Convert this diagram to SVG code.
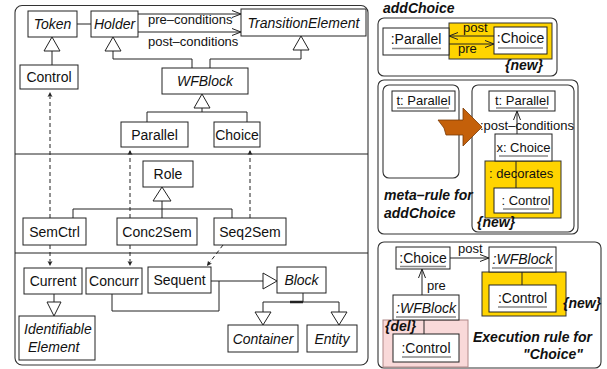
<svg xmlns="http://www.w3.org/2000/svg" width="607" height="369" viewBox="0 0 607 369">
<style>
.pn{fill:none;stroke:#333;stroke-width:1.1}
.bx{fill:#fff;stroke:#222;stroke-width:1}
.ln{fill:none;stroke:#222;stroke-width:1}
.dl{fill:none;stroke:#222;stroke-width:1;stroke-dasharray:4,3}
.tri{fill:#fff;stroke:#222;stroke-width:1}
.t{font-family:"Liberation Sans",Arial,Helvetica,sans-serif;font-size:14px;fill:#111}
.m{text-anchor:middle}
.i{font-style:italic}
.b{font-weight:bold}
.s{font-size:13px}
.u{stroke:#888;stroke-width:1.4}
.yel{fill:#FFD400;stroke:#333;stroke-width:1}
.pink{fill:#F9D9D9;stroke:#B08888;stroke-width:1}
</style>
<defs>
<marker id="open" markerWidth="10" markerHeight="8" refX="9" refY="4" orient="auto" markerUnits="userSpaceOnUse">
<path d="M0,0.5 L9,4 L0,7.5" fill="none" stroke="#222" stroke-width="1"/>
</marker>
<marker id="small" markerWidth="6" markerHeight="6" refX="5" refY="3" orient="auto" markerUnits="userSpaceOnUse">
<path d="M0,0.5 L5,3 L0,5.5 L1.2,3 Z" fill="#222"/>
</marker>
</defs>

<!-- panels -->
<rect class="pn" x="15" y="5.5" width="353" height="359.5" rx="7"/>
<line class="ln" x1="15" y1="154" x2="368" y2="154"/>
<line class="ln" x1="15" y1="253" x2="368" y2="253"/>

<g id="connectors">
<line class="ln" x1="77" y1="24" x2="91" y2="24"/>
<line class="ln" x1="138" y1="14" x2="241" y2="14" marker-end="url(#open)"/>
<line class="ln" x1="138" y1="32" x2="241" y2="32" marker-end="url(#open)"/>
<text class="t s" x="148" y="24">pre–conditions</text>
<text class="t s" x="148" y="46">post–conditions</text>
<!-- Token inheritance -->
<line class="ln" x1="52" y1="51" x2="52" y2="65"/>
<polygon class="tri" points="52,37 44,51 60,51"/>
<!-- Holder / TransitionElement inheritance -->
<path class="ln" d="M113,51 V59 H192 V68"/>
<polygon class="tri" points="113,37 105,51 121,51"/>
<path class="ln" d="M301,50 V59 H210 V68"/>
<polygon class="tri" points="301,36 293,50 309,50"/>
<!-- WFBlock children -->
<path class="ln" d="M202,108 V112 M147,122 V112 H247 V122"/>
<polygon class="tri" points="202,94 194,108 210,108"/>
<!-- Role children -->
<path class="ln" d="M162,201 V218 M73,218 V209 H232 V218"/>
<polygon class="tri" points="162,187 153,201 171,201"/>
<!-- dashed -->
<line class="dl" x1="50" y1="218" x2="50" y2="92" marker-end="url(#small)"/>
<line class="dl" x1="130" y1="218" x2="130" y2="150" marker-end="url(#small)"/>
<line class="dl" x1="250" y1="218" x2="250" y2="150" marker-end="url(#small)"/>
<line class="dl" x1="50" y1="245" x2="50" y2="266" marker-end="url(#small)"/>
<line class="dl" x1="130" y1="245" x2="130" y2="266" marker-end="url(#small)"/>
<line class="dl" x1="223" y1="245" x2="207" y2="266" marker-end="url(#small)"/>
<!-- Sequent/Concurr -> Block -->
<line class="ln" x1="211" y1="281" x2="263" y2="281"/>
<path class="ln" d="M112,293 V311 H219 V281"/>
<polygon class="tri" points="277,281 263,273 263,289"/>
<!-- Current -> IdentifiableElement -->
<line class="ln" x1="54" y1="294" x2="54" y2="302"/>
<polygon class="tri" points="54,316 47,302 61,302"/>
<!-- Block -> Container / Entity -->
<path class="ln" d="M303,293 V302 M263,312 V302 H339 V312"/>
<line x1="290" y1="302" x2="303" y2="302" stroke="#222" stroke-width="2.5"/>
<polygon class="tri" points="263,325 255,312 271,312"/>
<polygon class="tri" points="339,325 331,312 347,312"/>
</g>

<g id="Token"><rect class="bx" x="28" y="11" width="49" height="26"/><text class="t i m" x="52.5" y="29">Token</text></g>
<g id="Holder"><rect class="bx" x="91" y="11" width="47" height="26"/><text class="t i m" x="114.5" y="29">Holder</text></g>
<g id="TransitionElement"><rect class="bx" x="241" y="9" width="125" height="27"/><text class="t i m" x="303.5" y="27.5">TransitionElement</text></g>
<g id="Control"><rect class="bx" x="20" y="65" width="58" height="24"/><text class="t m" x="49" y="82">Control</text></g>
<g id="WFBlock"><rect class="bx" x="162" y="68" width="86" height="26"/><text class="t i m" x="205" y="86">WFBlock</text></g>
<g id="Parallel"><rect class="bx" x="121" y="122" width="67" height="25"/><text class="t m" x="154.5" y="139.5">Parallel</text></g>
<g id="Choice"><rect class="bx" x="214" y="122" width="46" height="25"/><text class="t m" x="237" y="139.5">Choice</text></g>
<g id="Role"><rect class="bx" x="143" y="161" width="50" height="26"/><text class="t m" x="168" y="179">Role</text></g>
<g id="SemCtrl"><rect class="bx" x="23" y="218" width="63" height="27"/><text class="t m" x="54.5" y="236.5">SemCtrl</text></g>
<g id="Conc2Sem"><rect class="bx" x="117" y="218" width="80" height="27"/><text class="t m" x="157" y="236.5">Conc2Sem</text></g>
<g id="Seq2Sem"><rect class="bx" x="214" y="218" width="72" height="27"/><text class="t m" x="250" y="236.5">Seq2Sem</text></g>
<g id="Current"><rect class="bx" x="24" y="268" width="58" height="26"/><text class="t m" x="53" y="286">Current</text></g>
<g id="Concurr"><rect class="bx" x="86" y="268" width="56" height="26"/><text class="t m" x="114" y="286">Concurr</text></g>
<g id="Sequent"><rect class="bx" x="148" y="267" width="63" height="26"/><text class="t m" x="179.5" y="285">Sequent</text></g>
<g id="Block"><rect class="bx" x="277" y="267" width="49" height="26"/><text class="t i m" x="301.5" y="285">Block</text></g>
<g id="IdentifiableElement"><rect class="bx" x="19" y="316" width="76" height="44"/><text class="t i" x="24" y="334">Identifiable</text><text class="t i" x="28" y="352">Element</text></g>
<g id="Container"><rect class="bx" x="228" y="325" width="70" height="27"/><text class="t i m" x="263" y="343.5">Container</text></g>
<g id="Entity"><rect class="bx" x="307" y="325" width="50" height="27"/><text class="t i m" x="332" y="343.5">Entity</text></g>

<!-- addChoice rule -->
<g id="addChoice">
<text class="t b i" x="383" y="13">addChoice</text>
<rect class="pn" x="378" y="18" width="179" height="58" rx="6"/>
<rect class="yel" x="449" y="23" width="103" height="36"/>
<rect class="bx" x="383" y="28" width="66" height="27"/>
<text class="t m" x="416" y="44">:Parallel</text>
<line class="u" x1="392" y1="48.5" x2="441" y2="48.5"/>
<rect class="bx" x="494" y="27" width="53" height="27"/>
<text class="t m" x="520.5" y="43">:Choice</text>
<line class="u" x1="498" y1="48" x2="543" y2="48"/>
<line class="ln" x1="494" y1="36" x2="449" y2="36" marker-end="url(#open)"/>
<line class="ln" x1="449" y1="44" x2="494" y2="44" marker-end="url(#open)"/>
<text class="t s" x="463" y="32">post</text>
<text class="t s" x="458" y="53">pre</text>
<text class="t b i" x="505" y="70">{new}</text>
</g>

<!-- meta-rule -->
<g id="metaRule">
<rect class="pn" x="378" y="80" width="200" height="154" rx="6"/>
<rect class="pn" x="383" y="85" width="76" height="93" rx="6"/>
<rect class="bx" x="392" y="91" width="63" height="20"/>
<text class="t m s" x="423.5" y="105">t: Parallel</text>
<line class="u" x1="397" y1="108" x2="449" y2="108"/>
<rect class="pn" x="472" y="85" width="102" height="147" rx="6"/>
<rect class="bx" x="489" y="91" width="66" height="20"/>
<text class="t m s" x="522" y="105">t: Parallel</text>
<line class="u" x1="496" y1="108" x2="548" y2="108"/>
<line class="ln" x1="517" y1="134" x2="517" y2="111" marker-end="url(#open)"/>
<text class="t s" x="480" y="130">:post–conditions</text>
<rect class="yel" x="485" y="161" width="76" height="57"/>
<line class="ln" x1="516" y1="161" x2="516" y2="188"/>
<rect class="bx" x="495" y="134" width="57" height="27"/>
<text class="t m s" x="523.5" y="152">x: Choice</text>
<line class="u" x1="499" y1="156" x2="548" y2="156"/>
<text class="t s" x="489" y="178">: decorates</text>
<rect class="bx" x="494" y="188" width="59" height="25"/>
<text class="t m s" x="526" y="205">: Control</text>
<line class="u" x1="503" y1="209" x2="549" y2="209"/>
<polygon points="438,120 463,120 463,108 482,127 463,146 463,135 446,135 444,128" fill="#C4600A" stroke="#7A3A05" stroke-width="0.8"/>
<text class="t b i" x="384" y="200">meta–rule for</text>
<text class="t b i" x="384" y="218">addChoice</text>
<text class="t b i" x="477" y="227">{new}</text>
</g>

<!-- execution rule -->
<g id="executionRule">
<rect class="pn" x="378" y="242" width="223" height="126" rx="6"/>
<rect class="bx" x="396" y="247" width="54" height="22"/>
<text class="t m" x="423" y="263">:Choice</text>
<line class="u" x1="400" y1="266.5" x2="446" y2="266.5"/>
<rect class="yel" x="482" y="272" width="84" height="44"/>
<line class="ln" x1="522" y1="272" x2="522" y2="285"/>
<rect class="bx" x="489" y="247" width="67" height="25"/>
<text class="t m i" x="522.5" y="264">:WFBlock</text>
<line class="u" x1="492" y1="268" x2="553" y2="268"/>
<line class="ln" x1="450" y1="258" x2="489" y2="258" marker-end="url(#open)"/>
<text class="t s" x="458" y="253">post</text>
<rect class="bx" x="489" y="285" width="67" height="27"/>
<text class="t m" x="522.5" y="303">:Control</text>
<line class="u" x1="498" y1="307" x2="547" y2="307"/>
<text class="t b i" x="563" y="308">{new}</text>
<line class="ln" x1="422" y1="295" x2="422" y2="269" marker-end="url(#open)"/>
<text class="t s" x="427" y="290">pre</text>
<rect class="pink" x="383" y="320" width="85" height="47"/>
<line class="ln" x1="424" y1="320" x2="424" y2="334"/>
<rect class="bx" x="393" y="295" width="66" height="25"/>
<text class="t m i" x="426" y="313">:WFBlock</text>
<line class="u" x1="396" y1="317" x2="456" y2="317"/>
<rect class="bx" x="393" y="334" width="66" height="28"/>
<text class="t m" x="426" y="353">:Control</text>
<line class="u" x1="402" y1="357" x2="451" y2="357"/>
<text class="t b i" x="385" y="331">{del}</text>
<text class="t b i" x="473" y="342">Execution rule for</text>
<text class="t b i" x="523" y="359">"Choice"</text>
</g>
</svg>
